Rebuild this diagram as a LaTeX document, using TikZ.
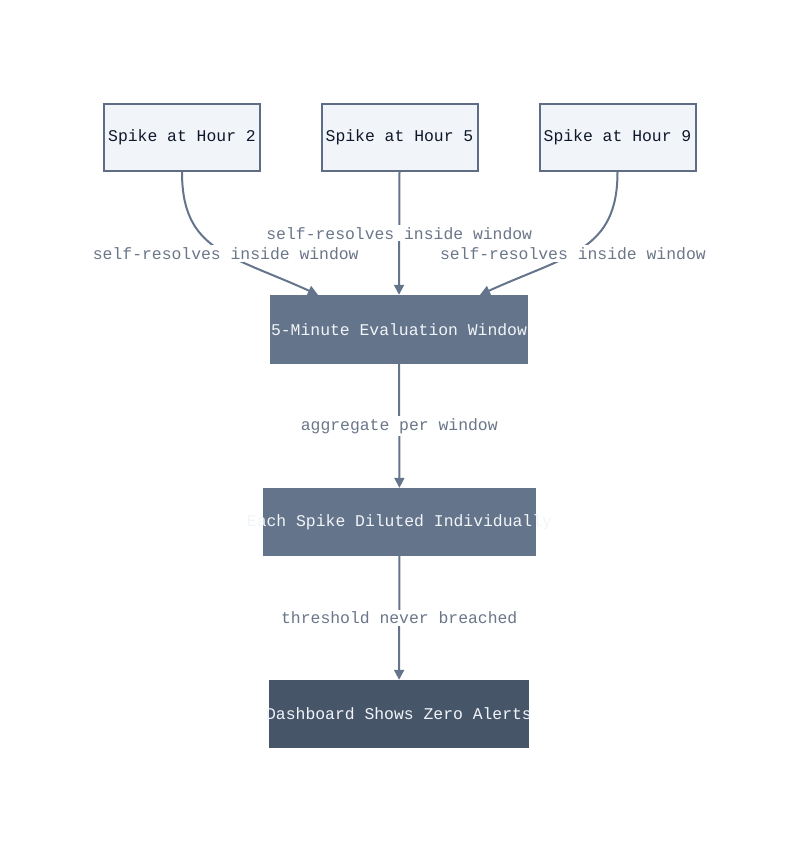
\documentclass[tikz,border=0pt]{standalone}
\usepackage{fontspec}
\setmonofont{Liberation Mono}
\usetikzlibrary{arrows.meta}
\definecolor{SlateLine}{HTML}{64748B}
\definecolor{SlateEdge}{HTML}{5E6D85}
\definecolor{SlateLight}{HTML}{F1F5F9}
\definecolor{SlateInk}{HTML}{0F172A}
\definecolor{SlateMid}{HTML}{64748B}
\definecolor{SlateDark}{HTML}{475569}
\definecolor{SlateLabel}{HTML}{6B7689}
\newcommand{\spill}[1]{\makebox[0pt]{#1}}

\begin{document}
\begin{tikzpicture}[x=1pt, y=-1pt,
    font=\ttfamily\fontsize{16.4}{19.7}\selectfont,
    spikebox/.style={draw=SlateEdge, fill=SlateLight, line width=2pt,
      text=SlateInk, minimum width=156pt, minimum height=67pt, inner sep=0pt},
    stagebox/.style={fill=#1, text=SlateLight, minimum height=68pt, inner sep=0pt},
    flow/.style={draw=SlateLine, line width=2pt, -{Triangle[length=10pt,width=10pt]}},
    lbl/.style={fill=white, text=SlateLabel, inner sep=2pt}]
  \useasboundingbox (0,0) rectangle (800,852);

  % three spikes
  \node[spikebox] (hr2) at (182,137.5) {Spike at Hour 2};
  \node[spikebox] (hr5) at (399.5,137.5) {Spike at Hour 5};
  \node[spikebox] (hr9) at (617.5,137.5) {Spike at Hour 9};

  % pipeline
  \node[stagebox=SlateMid, minimum width=258pt, minimum height=69pt] (win) at (399,329.5) {\spill{5-Minute Evaluation Window}};
  \node[stagebox=SlateMid, minimum width=273pt] (dil) at (399.5,522) {\spill{Each Spike Diluted Individually}};
  \node[stagebox=SlateDark, minimum width=260pt] (dash) at (399,714) {\spill{Dashboard Shows Zero Alerts}};

  \draw[flow] (hr2.south) .. controls +(0,79) and +(-88,-40) .. ([xshift=-81pt]win.north)
    node[lbl, pos=0.56] {self-resolves inside window};
  \draw[flow] (hr5.south) -- (win.north)
    node[lbl, pos=0.5] {self-resolves inside window};
  \draw[flow] (hr9.south) .. controls +(0,79) and +(88,-40) .. ([xshift=81pt]win.north)
    node[lbl, pos=0.56] {self-resolves inside window};

  \draw[flow] (win) -- (dil) node[lbl, midway] {aggregate per window};
  \draw[flow] (dil) -- (dash) node[lbl, midway] {threshold never breached};
\end{tikzpicture}
\end{document}
